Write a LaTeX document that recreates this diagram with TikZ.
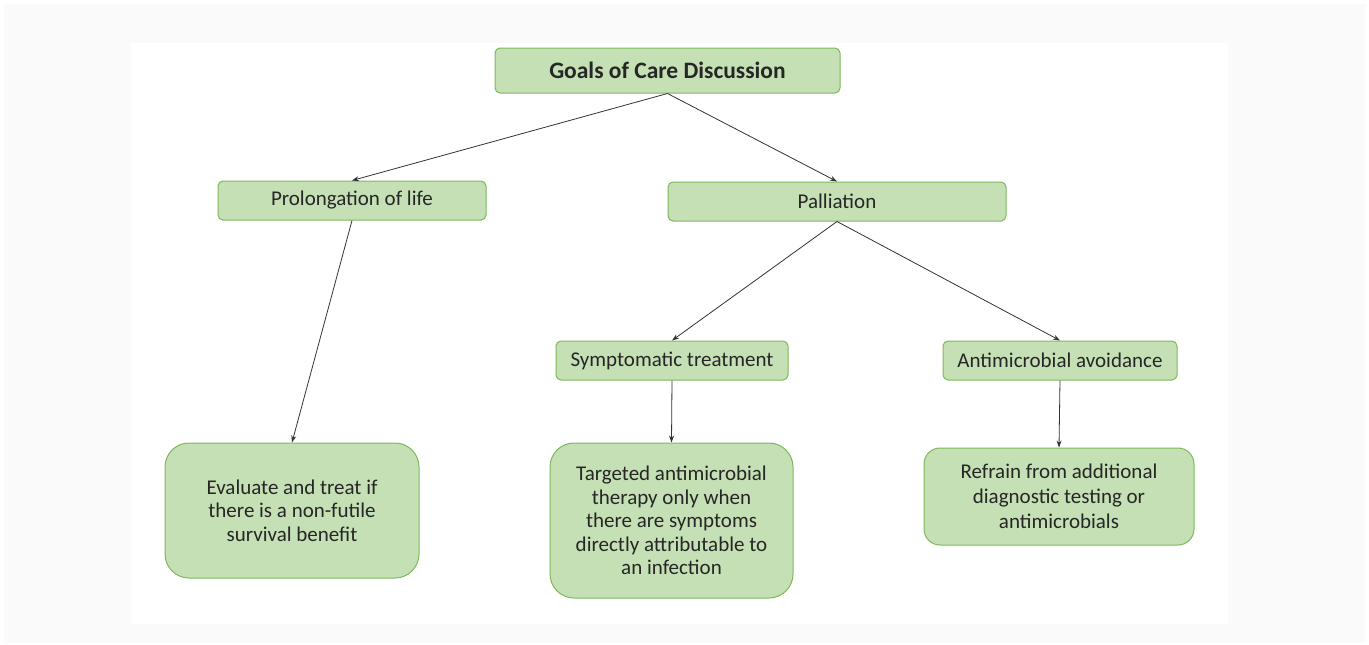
\documentclass[tikz,border=0pt]{standalone}
\usepackage{fontspec}
\setmainfont{Carlito}
\usetikzlibrary{arrows.meta}
\definecolor{boxfill}{HTML}{C5E0B4}
\definecolor{boxline}{HTML}{7DB95A}
\definecolor{bggray}{HTML}{FAFAFA}
\tikzset{
  gbox/.style={draw=boxline, line width=1pt, fill=boxfill, rounded corners=5pt,
    inner sep=0pt, align=center, font=\fontsize{21}{23.5}\selectfont, text=black!85},
  bigbox/.style={gbox, rounded corners=24pt},
  conn/.style={draw=black!80, line width=0.8pt, -{Stealth[length=7pt,width=5pt]}},
}
\begin{document}
\begin{tikzpicture}[x=1pt,y=-1pt]
\useasboundingbox (0,0) rectangle (1369,645);
\fill[white] (0,0) rectangle (1369,645);
\fill[bggray] (4,4) rectangle (1365,643);
\fill[white] (131,43) rectangle (1228,624);

\node[gbox, minimum width=345pt, minimum height=45pt, font=\fontsize{23.5}{26}\selectfont\bfseries] (goals) at (667.5,70.5) {Goals of Care Discussion};
\node[gbox, minimum width=268pt, minimum height=39pt] (prol) at (352,200.5) {Prolongation of life};
\node[gbox, minimum width=338pt, minimum height=39pt] (pall) at (837,201.5) {Palliation};
\node[gbox, minimum width=232pt, minimum height=39pt] (symp) at (672,360.5) {Symptomatic treatment};
\node[gbox, minimum width=234pt, minimum height=39pt] (avoid) at (1060,360.5) {Antimicrobial avoidance};
\node[bigbox, minimum width=254pt, minimum height=135pt] (eval) at (292,510.5) {Evaluate and treat if\\there is a non-futile\\survival benefit};
\node[bigbox, minimum width=243pt, minimum height=155pt] (targ) at (671.5,520.5) {Targeted antimicrobial\\therapy only when\\there are symptoms\\directly attributable to\\an infection};
\node[bigbox, rounded corners=16pt, minimum width=270pt, minimum height=97pt, font=\fontsize{21}{25}\selectfont] (refr) at (1059,496.5) {Refrain from additional\\diagnostic testing or\\antimicrobials};

\draw[conn] (goals.south) -- (prol.north);
\draw[conn] (goals.south) -- (pall.north);
\draw[conn] (prol.south) -- (eval.north);
\draw[conn] (pall.south) -- (symp.north);
\draw[conn] (pall.south) -- (avoid.north);
\draw[conn] (symp.south) -- (targ.north);
\draw[conn] (avoid.south) -- (refr.north);
\end{tikzpicture}
\end{document}
